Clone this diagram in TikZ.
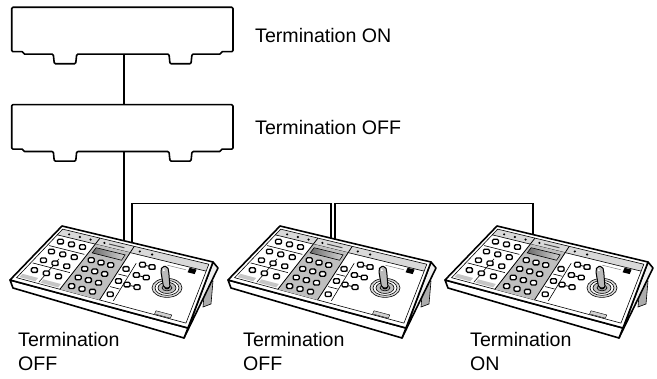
\documentclass[tikz,border=0pt]{standalone}
\usepackage{fontspec}
\setmainfont{Liberation Sans}
\usetikzlibrary{calc}
% bilinear point on the keyboard top surface: u along the front edge, v towards the back
\newcommand\kp[2]{($($(L)!#1!(B)$)!#2!($(T)!#1!(R)$)$)}
\newcommand\kquad[4]{\kp{#1}{#3} -- \kp{#2}{#3} -- \kp{#2}{#4} -- \kp{#1}{#4} -- cycle}
\newcommand\kbtn[2]{\fill[gray!60] \kp{#1}{#2} ++(-2.4,-1.2) rectangle ++(6,4);
  \draw[kbutton] \kp{#1}{#2} ++(-3.1,-2.4) rectangle ++(6,4.6);}
\tikzset{
  boxline/.style={line width=1.6pt, line join=round, rounded corners=1.2pt, fill=white},
  wire/.style={line width=1.6pt, line join=miter},
  kedge/.style={line width=1.6pt, line join=round},
  kthin/.style={line width=0.6pt},
  kbutton/.style={line width=1.3pt, fill=white, rounded corners=1.2pt},
  labeltext/.style={font=\fontsize{19.6}{24}\selectfont, inner sep=0pt, align=left},
}
\newcommand\unitbox{%
  \draw[boxline] (11.7,0) -- (233,0) -- (233,44.4) -- (221,44.4) -- (221,46.8)
    -- (192,46.8) -- (191,56.5) -- (170,56.5) -- (169,46.8) -- (76.7,46.8)
    -- (75.7,56.5) -- (54.3,56.5) -- (53.3,46.8) -- (23.3,46.8) -- (23.3,44.4)
    -- (11.7,44.4) -- cycle;
}
\newcommand\kbd{%
  \coordinate (L) at (10,280); \coordinate (T) at (62,226);
  \coordinate (R) at (213,262); \coordinate (B) at (188,328);
  \coordinate (Lf) at (13,288); \coordinate (Bf) at (184,338);
  \coordinate (Rf) at (218,268);
  % leg
  \draw[kthin, fill=gray!65] (205,284) -- (213,281) -- (211,304) -- (203,307) -- cycle;
  % right face
  \draw[kedge, fill=gray!12] (B) -- (Bf) -- (Rf) -- (R) -- cycle;
  % front face
  \draw[kedge, fill=white] (L) -- (Lf) -- (Bf) -- (B) -- cycle;
  % top surface
  \draw[kedge, fill=white] (L) -- (T) -- (R) -- (B) -- cycle;
  % back strip with lamps
  \fill[gray!30] \kquad{0.02}{0.98}{0.85}{0.955};
  \draw[kthin] \kquad{0.02}{0.98}{0.06}{0.955};
  \draw[kthin] \kp{0.02}{0.85} -- \kp{0.98}{0.85};
  \foreach \u in {0.08,0.15,0.22,0.31,0.54,0.62} {\fill \kp{\u}{0.9} circle (1.2);}
  \draw[line width=1pt, gray!60!black] \kp{0.34}{0.9} -- \kp{0.44}{0.9};
  % middle grey section
  \fill[gray!50] \kquad{0.265}{0.49}{0.06}{0.85};
  \shade[left color=gray!85!black, right color=gray!35] \kquad{0.285}{0.47}{0.71}{0.8};
  \draw[kthin] \kquad{0.285}{0.47}{0.71}{0.8};
  \draw[line width=0.8pt] \kp{0.265}{0.06} -- \kp{0.265}{0.955};
  \draw[line width=0.8pt] \kp{0.49}{0.06} -- \kp{0.49}{0.955};
  \foreach \u in {0.31,0.37,0.43} \foreach \v in {0.6,0.45,0.3,0.15} {\kbtn{\u}{\v}}
  % left section
  \fill[gray!45] \kquad{0.03}{0.12}{0.08}{0.14};
  \fill[gray!45] \kquad{0.15}{0.25}{0.08}{0.14};
  \draw[kthin] \kp{0.14}{0.08} -- \kp{0.14}{0.5};
  \draw[kthin] \kp{0.03}{0.66} -- \kp{0.25}{0.66};
  \draw[kthin] \kp{0.03}{0.34} -- \kp{0.25}{0.34};
  \foreach \u in {0.07,0.14,0.21} \foreach \v in {0.76,0.58,0.42,0.24} {\kbtn{\u}{\v}}
  % right section
  \draw[kthin] \kp{0.56}{0.1} -- \kp{0.56}{0.72};
  \draw[kthin] \kp{0.5}{0.5} -- \kp{0.555}{0.5};
  \draw[kthin] \kp{0.5}{0.29} -- \kp{0.555}{0.29};
  \foreach \v in {0.6,0.4,0.18} {\kbtn{0.525}{\v}}
  \foreach \v/\w in {0.72/0.6,0.55/0.6,0.38/0.58} {
    \draw[line width=0.8pt] \kp{\w}{\v} -- \kp{\w+0.06}{\v};
    \kbtn{\w}{\v} \kbtn{\w+0.06}{\v}}
  \fill \kquad{0.875}{0.92}{0.77}{0.84};
  \draw[line width=0.5pt, gray] \kp{0.74}{0.8} -- \kp{0.86}{0.8};
  \draw[line width=0.4pt, fill=gray!35] \kquad{0.8}{0.89}{0.07}{0.12};
  % joystick
  \path \kp{0.8}{0.48} coordinate (J);
  \draw[kthin, fill=gray!30] (J) ellipse (15 and 9.5);
  \draw[kthin, fill=white] (J) ellipse (12 and 7.5);
  \draw[kthin, fill=gray!50] (J) ellipse (9 and 5.6);
  \draw[kthin, fill=gray!75] (J) ellipse (5 and 3);
  \fill[black] (J) ellipse (2.5 and 1.5);
  \draw[line width=1pt, fill=gray!55, rounded corners=2pt]
    ($(J)+(-3.3,0)$) -- ($(J)+(-6.2,-17)$) -- ($(J)+(-5,-21.5)$) -- ($(J)+(0.5,-21.5)$)
    -- ($(J)+(1.7,-17)$) -- ($(J)+(3,0)$) -- cycle;
  \fill[white] ($(J)+(-4,-17)$) -- ($(J)+(-3.3,-20)$) -- ($(J)+(-2.2,-17)$) -- cycle;
}
\begin{document}
\begin{tikzpicture}[x=1pt, y=-1pt]
\useasboundingbox (0,0) rectangle (657,379);
% units
\begin{scope}[shift={(0,7.3)}] \unitbox \end{scope}
\begin{scope}[shift={(0,104.7)}] \unitbox \end{scope}
\coordinate (box1bot) at (124,54);
\coordinate (box2top) at (124,104.7);
\coordinate (box2bot) at (124,151.5);
\coordinate (k1a) at (124,246);
\coordinate (k1b) at (132,246);
\coordinate (k2a) at (331,244);
\coordinate (k2b) at (335,244);
\coordinate (k3a) at (533,242);
\coordinate (hy) at (0,203.5);
\draw[wire] (box1bot) -- (box2top);
\draw[wire] (box2bot) -- (k1a);
\draw[wire] (k1b) |- (hy -| k2a) -- (k2a);
\draw[wire] (k2b) |- (hy -| k3a) -- (k3a);
% keyboards
\begin{scope}[shift={(0,0)}] \kbd \end{scope}
\begin{scope}[shift={(218,0)}] \kbd \end{scope}
\begin{scope}[shift={(435,0)}] \kbd \end{scope}
% labels
\node[labeltext, anchor=base west] (lab1) at (255,42.3) {Termination ON};
\node[labeltext, anchor=base west] (lab2) at (255,134.3) {Termination OFF};
\node[labeltext, anchor=north west] (lab3) at (18,332.5) {Termination\\OFF};
\node[labeltext, anchor=north west] (lab4) at (243,332.5) {Termination\\OFF};
\node[labeltext, anchor=north west] (lab5) at (470,332.5) {Termination\\ON};
\end{tikzpicture}
\end{document}
